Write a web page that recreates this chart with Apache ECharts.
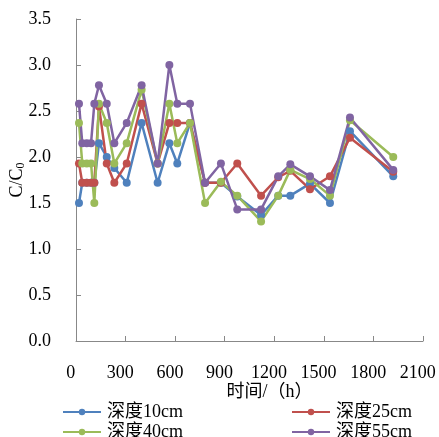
<!DOCTYPE html>
<html>
<head>
<meta charset="utf-8">
<script src="https://cdn.jsdelivr.net/npm/echarts@6/dist/echarts.min.js"></script>
<style>html,body{margin:0;padding:0;background:#fff}#c{width:439px;height:437px}</style>
</head>
<body>
<div id="c"></div>
<script>
const hours = [18, 38, 65, 91, 111, 139, 186, 232, 307, 397, 494, 565, 613, 690, 781, 877, 976, 1120, 1224, 1297, 1416, 1537, 1658, 1920];
const depth10 = [1.50, 1.72, 1.72, 1.72, 1.72, 2.15, 2.00, 1.88, 1.72, 2.37, 1.72, 2.15, 1.93, 2.37, 1.72, 1.72, 1.57, 1.37, 1.58, 1.58, 1.71, 1.50, 2.28, 1.79];
const depth25 = [1.93, 1.72, 1.72, 1.72, 1.72, 2.55, 1.93, 1.72, 1.93, 2.58, 1.93, 2.37, 2.37, 2.37, 1.72, 1.72, 1.93, 1.58, 1.78, 1.85, 1.65, 1.79, 2.21, 1.84];
const depth40 = [2.37, 1.93, 1.93, 1.93, 1.50, 2.58, 2.37, 1.93, 2.15, 2.73, 1.93, 2.58, 2.15, 2.37, 1.50, 1.73, 1.58, 1.30, 1.58, 1.86, 1.76, 1.58, 2.40, 2.00];
const depth55 = [2.58, 2.15, 2.15, 2.15, 2.58, 2.78, 2.58, 2.15, 2.37, 2.78, 1.93, 3.00, 2.58, 2.58, 1.72, 1.93, 1.43, 1.43, 1.79, 1.92, 1.79, 1.64, 2.43, 1.86];
const seriesNames = ['深度10cm', '深度25cm', '深度40cm', '深度55cm'];
const seriesColors = ['#4F81BD', '#C0504D', '#9BBB59', '#8064A2'];
const xTicks = [0, 300, 600, 900, 1200, 1500, 1800, 2100];
const yTicks = [0, 0.5, 1.0, 1.5, 2.0, 2.5, 3.0, 3.5];

const allData = [depth10, depth25, depth40, depth55];
const font = '"Liberation Serif", "Times New Roman", "Noto Sans CJK SC", serif';
const chart = echarts.init(document.getElementById('c'), null, {renderer: 'canvas'});
const legendPos = [[62, 403], [291, 403], [62, 423], [291, 423]];
const option = {
  animation: false,
  backgroundColor: '#fff',
  grid: {left: 76, right: 16, top: 19, bottom: 96, containLabel: false, outerBoundsMode: 'none'},
  xAxis: {
    type: 'value', min: xTicks[0], max: xTicks[xTicks.length - 1], interval: 300,
    name: '时间/（h）', nameLocation: 'middle', nameGap: 42, nameMoveOverlap: false,
    nameTextStyle: {fontFamily: font, fontSize: 18, color: '#000', padding: [0, 0, 0, 40]},
    axisLine: {show: true, lineStyle: {color: '#888', width: 1}},
    axisTick: {show: true, inside: true, length: 5, lineStyle: {color: '#888'}},
    axisLabel: {fontFamily: font, fontSize: 18, color: '#000', margin: 23, formatter: v => v + '\u2002\u200a'},
    splitLine: {show: false}
  },
  yAxis: {
    type: 'value', min: yTicks[0], max: yTicks[yTicks.length - 1], interval: 0.5,
    name: '{a|C/C}{b|0}', nameLocation: 'middle', nameGap: 49, nameRotate: 90, nameMoveOverlap: false,
    nameTextStyle: {rich: {
      a: {fontFamily: font, fontSize: 18, color: '#000'},
      b: {fontFamily: font, fontSize: 12, color: '#000', verticalAlign: 'bottom', padding: [8, 0, 0, 0]}
    }},
    axisLine: {show: true, lineStyle: {color: '#888', width: 1}},
    axisTick: {show: true, inside: true, length: 5, lineStyle: {color: '#888'}},
    axisLabel: {fontFamily: font, fontSize: 18, color: '#000', margin: 25, formatter: v => v.toFixed(1)},
    splitLine: {show: false}
  },
  legend: seriesNames.map((n, i) => ({
    data: [n], left: legendPos[i][0], top: legendPos[i][1], itemWidth: 38, itemHeight: 8, padding: 0,
    textStyle: {fontFamily: font, fontSize: 18, color: '#000', padding: [0, 0, 0, 1]}
  })),
  series: allData.map((d, i) => ({
    name: seriesNames[i], type: 'line',
    data: hours.map((h, j) => [h, d[j]]),
    symbol: 'circle', symbolSize: 8, showSymbol: true,
    itemStyle: {color: seriesColors[i]},
    lineStyle: {color: seriesColors[i], width: 2.5}
  }))
};
chart.setOption(option);
</script>
</body>
</html>
